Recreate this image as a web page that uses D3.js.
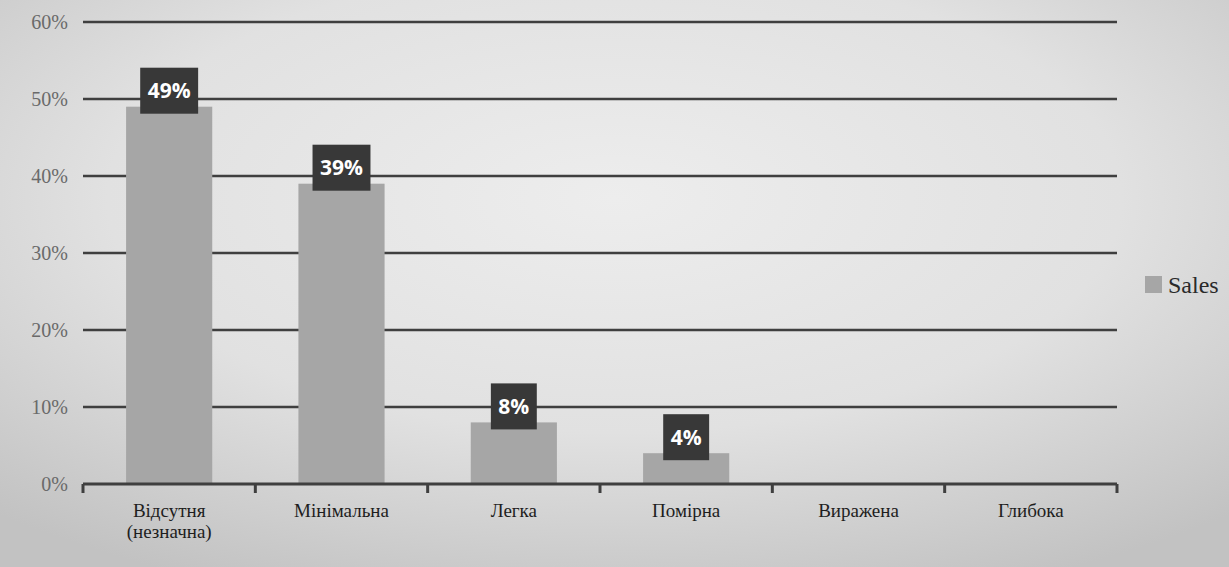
<!DOCTYPE html>
<html><head><meta charset="utf-8">
<script src="https://cdn.jsdelivr.net/npm/d3@7"></script>
<style>html,body{margin:0;padding:0;overflow:hidden;}svg{display:block;}
.serif{font-family:"Liberation Serif","Times New Roman","DejaVu Serif",serif;}
.bold{font-family:"Open Sans","DejaVu Sans",sans-serif;font-weight:700;}
</style>
</head><body>
<svg id="c" width="1229" height="567"></svg>
<script>
const categories = [["Відсутня","(незначна)"],["Мінімальна"],["Легка"],["Помірна"],["Виражена"],["Глибока"]];
const values = [0.49, 0.39, 0.08, 0.04, null, null];
const labels = ["49%","39%","8%","4%","",""];
const yTicks = [0, 0.1, 0.2, 0.3, 0.4, 0.5, 0.6];
const seriesName = "Sales";

const W = 1229, H = 567;
const svg = d3.select("#c");
const defs = svg.append("defs");
const rg = defs.append("radialGradient").attr("id","bg").attr("cx","50%").attr("cy","35%").attr("r","75%");
rg.append("stop").attr("offset","0%").attr("stop-color","#ededed");
rg.append("stop").attr("offset","55%").attr("stop-color","#e1e1e1");
rg.append("stop").attr("offset","100%").attr("stop-color","#c2c2c2");
svg.append("rect").attr("width",W).attr("height",H).attr("fill","url(#bg)");

const m = {left:83, right:1117, top:22, bottom:484};
const x = d3.scaleBand().domain(d3.range(categories.length)).range([m.left, m.right]).paddingInner(0.5).paddingOuter(0.25);
const xb = d3.scaleLinear().domain([0, categories.length]).range([m.left, m.right]);
const y = d3.scaleLinear().domain([0, 0.6]).range([m.bottom, m.top]);

// gridlines
svg.append("g").selectAll("line").data(yTicks.filter(t=>t>0)).join("line")
  .attr("x1", m.left).attr("x2", m.right)
  .attr("y1", d=>y(d)).attr("y2", d=>y(d))
  .attr("stroke","#3f3f3f").attr("stroke-width",2.5);

// y labels
svg.append("g").selectAll("text").data(yTicks).join("text")
  .attr("class","serif")
  .attr("x", 68).attr("y", d=>y(d)).attr("dy","0.35em")
  .attr("text-anchor","end")
  .attr("font-size",20)
  .attr("fill","#6a6a6a")
  .text(d=>d3.format(".0%")(d));

// bars
svg.append("g").selectAll("rect").data(values.map((v,i)=>({v,i})).filter(d=>d.v!=null)).join("rect")
  .attr("x", d=>x(d.i)).attr("width", x.bandwidth())
  .attr("y", d=>y(d.v)).attr("height", d=>y(0)-y(d.v))
  .attr("fill","#a6a6a6");

// x axis
const axis = svg.append("g");
axis.append("line").attr("x1", m.left).attr("x2", m.right).attr("y1", m.bottom).attr("y2", m.bottom)
  .attr("stroke","#3f3f3f").attr("stroke-width",3);
axis.selectAll("line.t").data(d3.range(categories.length+1)).join("line").attr("class","t")
  .attr("x1", d=>xb(d)).attr("x2", d=>xb(d)).attr("y1", m.bottom).attr("y2", m.bottom+9)
  .attr("stroke","#3f3f3f").attr("stroke-width",3);

// category labels
const cl = svg.append("g").selectAll("text").data(categories).join("text")
  .attr("class","serif")
  .attr("x",(d,i)=>x(i)+x.bandwidth()/2).attr("y",517)
  .attr("text-anchor","middle")
  .attr("font-size",19)
  .attr("fill","#1e1e1e");
cl.selectAll("tspan").data(d=>d).join("tspan")
  .attr("x",function(){return this.parentNode.getAttribute("x");})
  .attr("dy",(d,j)=>j===0?0:21)
  .text(d=>d);

// data labels
const lg = svg.append("g").selectAll("g").data(values.map((v,i)=>({v,i,l:labels[i]})).filter(d=>d.v!=null)).join("g")
  .attr("transform", d=>`translate(${x(d.i)+x.bandwidth()/2},${y(d.v)-16})`);
lg.append("text").attr("class","bold").attr("text-anchor","middle").attr("dy","0.36em")
  .attr("font-size",21)
  .attr("fill","#fff").text(d=>d.l);
lg.each(function(){
  const g = d3.select(this);
  const w = g.select("text").node().getComputedTextLength()+15;
  g.insert("rect","text").attr("x",-w/2).attr("y",-23).attr("width",w).attr("height",46).attr("fill","#383838");
});

// legend
svg.append("rect").attr("x",1145).attr("y",276).attr("width",17).attr("height",17).attr("fill","#a6a6a6");
svg.append("text").attr("class","serif").attr("x",1168).attr("y",293).attr("font-size",24)
  .attr("fill","#2a2a2a").text(seriesName);
</script>
</body></html>
